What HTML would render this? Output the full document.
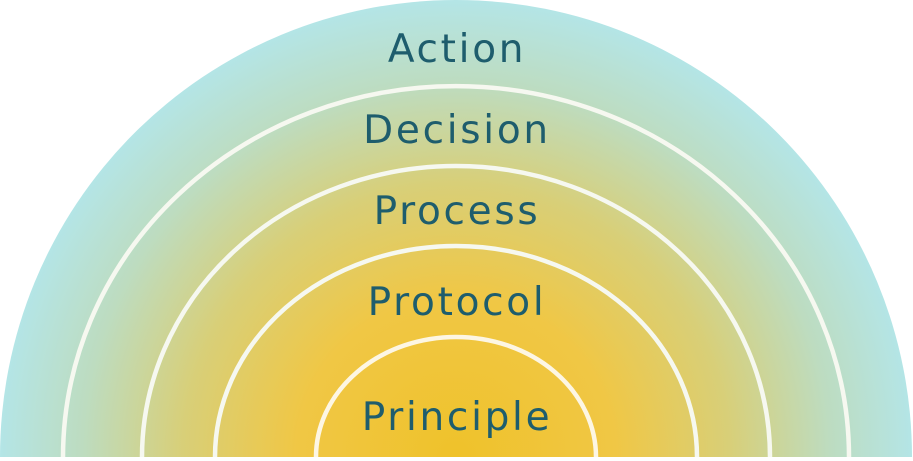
<!DOCTYPE html>
<html><head><meta charset="utf-8"><style>
html,body{margin:0;padding:0;background:#fff;width:913px;height:461px;overflow:hidden}
</style></head><body>
<svg width="913" height="461" viewBox="0 0 913 461" xmlns="http://www.w3.org/2000/svg">
<defs>
<radialGradient id="g" gradientUnits="userSpaceOnUse" cx="456" cy="457" r="456">
<stop offset="0" stop-color="#efc22a"/>
<stop offset="0.35" stop-color="#f0c745"/>
<stop offset="0.6" stop-color="#d8cf78"/>
<stop offset="0.82" stop-color="#bddcc0"/>
<stop offset="1" stop-color="#b4e5e6"/>
</radialGradient>
</defs>
<path d="M0,457 A456,457 0 0 1 912,457 Z" fill="url(#g)"/>
<g fill="none" stroke="#f6f8f0" stroke-width="4.5">
<path d="M63,457 A393,371 0 0 1 849,457"/>
<path d="M142,457 A314,291 0 0 1 770,457"/>
<path d="M215,457 A241,211 0 0 1 697,457"/>
<path d="M316,457 A140,120 0 0 1 596,457" stroke="#fdf6e3"/>
</g>
<rect x="0" y="457" width="913" height="4" fill="#fff"/>
<g font-family="DejaVu Sans, Liberation Sans, sans-serif" font-size="39" fill="#1e5d6d" text-anchor="middle" letter-spacing="2.7">
<text x="457" y="62">Action</text>
<text x="457" y="143">Decision</text>
<text x="457" y="224">Process</text>
<text x="457" y="315">Protocol</text>
<text x="457" y="430">Principle</text>
</g>
</svg>
</body></html>
